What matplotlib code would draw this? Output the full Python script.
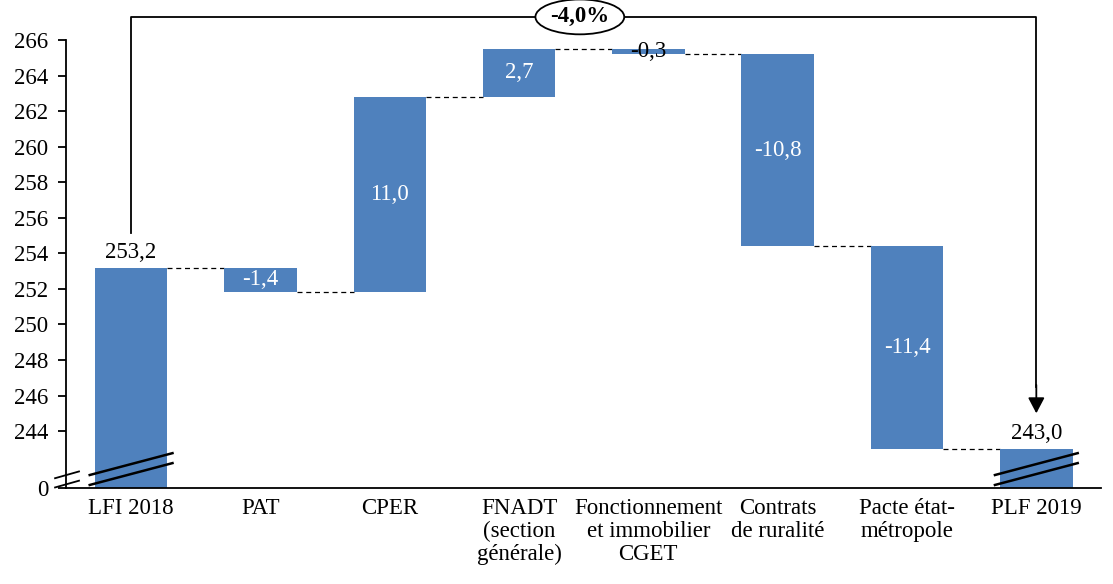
import matplotlib
matplotlib.use("Agg")
import matplotlib.pyplot as plt

plt.rcParams['font.family'] = ['Liberation Serif', 'DejaVu Serif']

# data (Md€)
categories = ["LFI 2018", "PAT", "CPER", "FNADT\n(section\ngénérale)",
              "Fonctionnement\net immobilier\nCGET", "Contrats\nde ruralité",
              "Pacte état-\nmétropole", "PLF 2019"]
start_value = 253.2
deltas = [-1.4, 11.0, 2.7, -0.3, -10.8, -11.4]
end_value = 243.0
change_label = "-4,0%"

y_floor = 240.8  # broken axis: "0" is shown here
yticks = list(range(244, 267, 2))

bar_color = "#4F81BD"
bar_w = 0.56
fs = 16.5

fig = plt.figure(figsize=(11.13, 5.84), dpi=100)
ax = fig.add_axes([0.0597, 0.1644, 0.9295, 0.7671])

# running totals
levels = [start_value]
for d in deltas:
    levels.append(levels[-1] + d)

# first and last bars
ax.bar(0, start_value - y_floor, bottom=y_floor, width=bar_w, color=bar_color, zorder=2)
ax.bar(7, end_value - y_floor, bottom=y_floor, width=bar_w, color=bar_color, zorder=2)
ax.text(0, start_value + 0.55, f"{start_value:.1f}".replace(".", ","), ha="center", va="baseline", fontsize=fs)
ax.text(7, end_value + 0.55, f"{end_value:.1f}".replace(".", ","), ha="center", va="baseline", fontsize=fs)

# delta bars
for i, d in enumerate(deltas, start=1):
    lo = min(levels[i - 1], levels[i])
    ax.bar(i, abs(d), bottom=lo, width=bar_w, color=bar_color, zorder=2)
    txt = f"{d:.1f}".replace(".", ",")
    col = "white" if abs(d) > 1 else "black"
    ax.text(i, lo + abs(d) / 2, txt, ha="center", va="center", fontsize=fs, color=col, zorder=3)

# dashed connectors
all_levels = levels + [end_value]
for i in range(7):
    ax.plot([i + bar_w / 2, i + 1 - bar_w / 2], [all_levels[i], all_levels[i]],
            color="black", lw=0.9, ls=(0, (4, 3)), zorder=1)

# break marks on first/last bars and on y axis
for xc in (0, 7):
    for off in (0, -0.56):
        ax.plot([xc - 0.32, xc + 0.32], [241.53 + off, 242.76 + off],
                color="black", lw=1.8, clip_on=False, zorder=4)
for off in (0, -0.52):
    ax.plot([-0.588, -0.403], [241.35 + off, 241.73 + off], color="black", lw=1.3,
            clip_on=False, zorder=4)

# bracket with percentage change
top = 267.3
ax.plot([0, 0, 7, 7], [255.15, top, top, 246.5], color="black", lw=1.3, clip_on=False, zorder=4)
ax.annotate("", xy=(7, 245.0), xytext=(7, 246.6),
            arrowprops=dict(arrowstyle="-|>,head_width=0.5,head_length=0.95", color="black",
                            lw=1.3, shrinkA=0, shrinkB=0),
            annotation_clip=False)
ax.text(3.47, top, change_label, ha="center", va="center", fontsize=fs, fontweight="bold",
        bbox=dict(boxstyle="ellipse,pad=0.08", fc="white", ec="black", lw=1.3), zorder=5)

ax.set_xlim(-0.5, 7.5)
ax.set_ylim(y_floor, 266)
ax.set_yticks([y_floor] + yticks)
ax.set_yticklabels(["0"] + [str(t) for t in yticks])
ax.set_xticks(range(8))
ax.set_xticklabels(categories, fontsize=fs, linespacing=1.12)
ax.tick_params(axis="y", labelsize=fs, length=6, width=1.3, direction="out", pad=7)
ax.tick_params(axis="x", length=0, pad=7)
for s in ("top", "right"):
    ax.spines[s].set_visible(False)
ax.spines["left"].set_linewidth(1.3)
ax.spines["bottom"].set_linewidth(1.3)

fig.savefig("out.png", dpi=100)
